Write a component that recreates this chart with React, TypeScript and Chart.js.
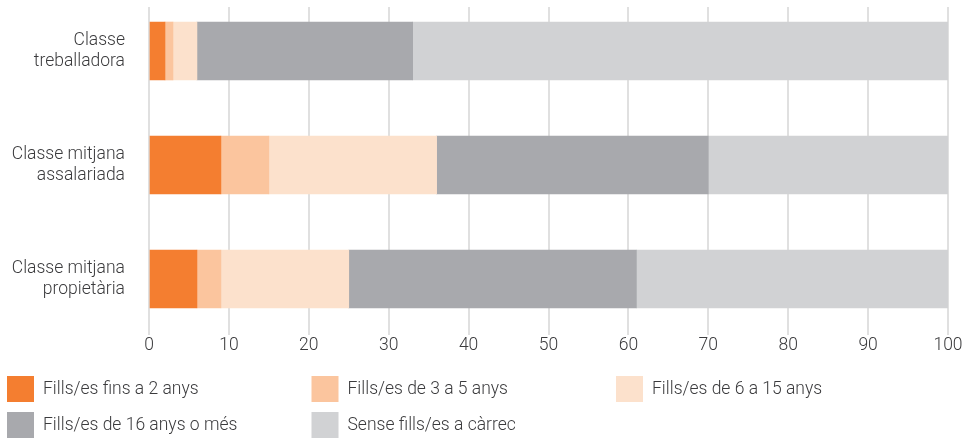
import React, { useEffect, useRef } from "react";
import { Chart, registerables } from "chart.js";

Chart.register(...registerables);

const categories: string[][] = [
  ["Classe", "treballadora"],
  ["Classe mitjana", "assalariada"],
  ["Classe mitjana", "propietària"],
];

const seriesLabels = [
  "Fills/es fins a 2 anys",
  "Fills/es de 3 a 5 anys",
  "Fills/es de 6 a 15 anys",
  "Fills/es de 16 anys o més",
  "Sense fills/es a càrrec",
];

const seriesColors = ["#F47E30", "#FBC59E", "#FCE1CC", "#A8A9AD", "#D1D2D4"];

// values per category (rows), in series order
const treballadora = [2, 1, 3, 27, 67];
const assalariada = [9, 6, 21, 34, 30];
const propietaria = [6, 3, 16, 36, 39];

const xTicks = [0, 10, 20, 30, 40, 50, 60, 70, 80, 90, 100];

const FONT = "Roboto, 'Liberation Sans', sans-serif";
const TEXT = "#3b3b3d";

const legendPlugin = {
  id: "gridLegend",
  afterDraw(chart: any) {
    const ctx = chart.ctx;
    ctx.save();
    chart.data.datasets.forEach((ds: any, i: number) => {
      const col = i % 3;
      const row = Math.floor(i / 3);
      const x = 7 + col * 304.5;
      const y = 376 + row * 36;
      ctx.fillStyle = ds.backgroundColor;
      ctx.fillRect(x, y, 27, 26);
      ctx.fillStyle = TEXT;
      ctx.font = `300 17.5px ${FONT}`;
      ctx.textBaseline = "middle";
      ctx.textAlign = "left";
      ctx.fillText(ds.label, x + 36, y + 14);
    });
    ctx.restore();
  },
};

export default function App() {
  const ref = useRef<HTMLCanvasElement>(null);
  useEffect(() => {
    if (!ref.current) return;
    const rows = [treballadora, assalariada, propietaria];
    const datasets = seriesLabels.map((label, s) => ({
      label,
      data: rows.map((r, i) => ({ x: r[s], y: i })),
      backgroundColor: seriesColors[s],
      borderWidth: 0,
      barThickness: 58,
      grouped: false,
    }));
    const chart = new Chart(ref.current, {
      type: "bar",
      data: { datasets },
      plugins: [legendPlugin],
      options: {
        indexAxis: "y",
        animation: false,
        responsive: false,
        layout: { padding: { top: 7, right: 16, left: 0, bottom: 0 } },
        plugins: { legend: { display: false }, tooltip: { enabled: false } },
        scales: {
          x: {
            type: "linear",
            stacked: true,
            min: 0,
            max: 100,
            afterFit: (s: any) => {
              s.height = 103;
              s.paddingLeft = 0;
              s.paddingRight = 0;
            },
            afterBuildTicks: (s: any) => {
              s.ticks = xTicks.map((v) => ({ value: v }));
            },
            grid: { color: "#E0E0E0", lineWidth: 2, drawTicks: false },
            border: { display: false },
            ticks: {
              padding: 2,
              color: TEXT,
              font: { family: FONT, size: 17.5, weight: "300", lineHeight: 1 },
            },
          },
          y: {
            type: "linear",
            offset: false,
            bounds: "data",
            reverse: true,
            min: -0.386,
            max: 2.491,
            afterFit: (s: any) => {
              s.width = 149;
              s.paddingTop = 0;
              s.paddingBottom = 0;
            },
            afterBuildTicks: (s: any) => {
              s.ticks = categories.map((_, i) => ({ value: i }));
            },
            grid: { display: false, drawTicks: false, offset: false },
            border: { display: false },
            ticks: {
              padding: 24,
              autoSkip: false,
              color: TEXT,
              font: { family: FONT, size: 17.5, weight: "300", lineHeight: 1.2 },
              callback: (v: any) => categories[v as number] ?? "",
            },
          },
        },
      } as any,
    });
    return () => chart.destroy();
  }, []);
  return (
    <div style={{ position: "absolute", left: 0, top: 0, width: 964, height: 438, background: "#fff" }}>
      <canvas ref={ref} width={964} height={438} style={{ display: "block" }} />
    </div>
  );
}
